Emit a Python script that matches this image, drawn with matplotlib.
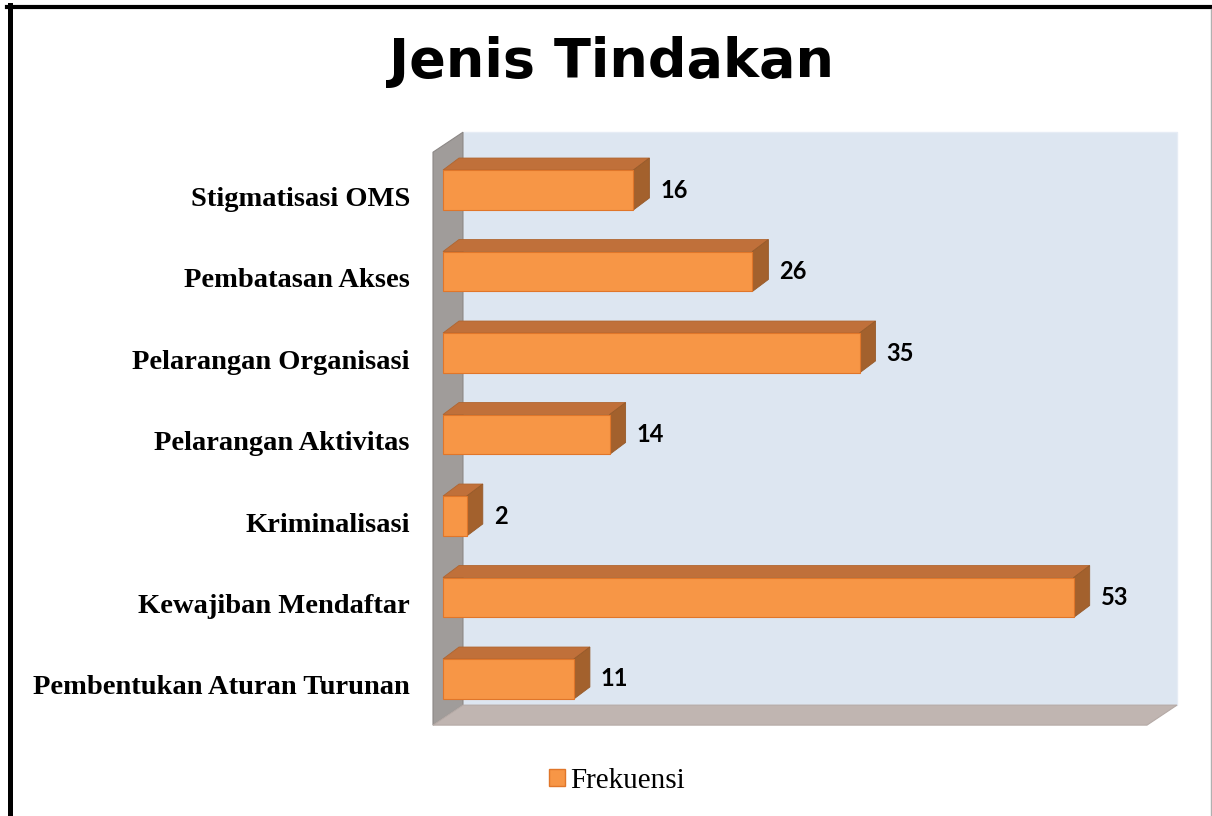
import matplotlib.pyplot as plt
import matplotlib.lines as mlines
from matplotlib.patches import Polygon, Patch
from matplotlib.transforms import ScaledTranslation

categories = ["Stigmatisasi OMS", "Pembatasan Akses", "Pelarangan Organisasi",
              "Pelarangan Aktivitas", "Kriminalisasi", "Kewajiban Mendaftar",
              "Pembentukan Aturan Turunan"]
frekuensi = [16, 26, 35, 14, 2, 53, 11]
x_max = 60

W, H, DPI = 1212, 816, 100
fig = plt.figure(figsize=(W / DPI, H / DPI), dpi=DPI)

# axes = front plane of the bars (pixel layout)
ax_l, ax_r, ax_t, ax_b = 443, 1157, 149.25, 719.75
ax = fig.add_axes([ax_l / W, 1 - ax_b / H, (ax_r - ax_l) / W, (ax_b - ax_t) / H])
ax.set_xlim(0, x_max)
ax.set_ylim(len(categories) - 0.5, -0.5)
ax.set_facecolor("none")
for s in ax.spines.values():
    s.set_visible(False)

PX = (ax_r - ax_l) / x_max   # pixels per value unit
PY = (ax_b - ax_t) / len(categories)  # pixels per category


def off(dx, dy):
    # pixel offset (right, up) -> data offset
    return dx / PX, -dy / PY


fx, fy = off(-10, -7)   # front of walls
bx, by = off(20, 13)    # back of walls
ddx, ddy = off(16, 12)  # bar depth
y0, y1 = -0.55, 6.48

# back wall, side wall, floor
ax.add_patch(Polygon([(bx, y0 + by), (x_max + bx, y0 + by), (x_max + bx, y1 + by), (bx, y1 + by)],
                     closed=True, facecolor="#dde6f1", edgecolor="#e6ecf5", lw=1, clip_on=False, zorder=1))
ax.add_patch(Polygon([(fx, y0 + fy), (bx, y0 + by), (bx, y1 + by), (fx, y1 + fy)],
                     closed=True, facecolor="#a09c9a", edgecolor="#8c8886", lw=0.8, clip_on=False, zorder=2))
ax.add_patch(Polygon([(fx, y1 + fy), (x_max + fx, y1 + fy), (x_max + bx, y1 + by), (bx, y1 + by)],
                     closed=True, facecolor="#c0b5b1", edgecolor="#b5aaa6", lw=0.8, clip_on=False, zorder=2))

h = 0.245
for i, v in enumerate(frekuensi):
    top = [(0, i - h), (v, i - h), (v + ddx, i - h + ddy), (ddx, i - h + ddy)]
    side = [(v, i - h), (v, i + h), (v + ddx, i + h + ddy), (v + ddx, i - h + ddy)]
    ax.add_patch(Polygon(top, closed=True, facecolor="#c0703a", edgecolor="#b0652f",
                         lw=0.6, clip_on=False, zorder=3))
    ax.add_patch(Polygon(side, closed=True, facecolor="#a3612d", edgecolor="#965a2a",
                         lw=0.6, clip_on=False, zorder=3))
    ax.barh(i, v, height=2 * h, color="#f79646", edgecolor="#e0762a", lw=0.8,
            zorder=4, clip_on=False)
    ax.text(v + 27 / PX, i, str(v), ha="left", va="center", fontsize=17,
            fontfamily="Lato", fontweight="bold", color="black", zorder=5)

ax.set_xticks([])
ax.set_yticks(range(len(categories)), labels=categories)
ax.tick_params(axis="y", length=0, pad=23.8)
for lab in ax.get_yticklabels():
    lab.set_fontfamily("Liberation Serif")
    lab.set_fontweight("bold")
    lab.set_fontsize(20.5)
    lab.set_transform(lab.get_transform() + ScaledTranslation(0, -6 / DPI, fig.dpi_scale_trans))

fig.text(611 / W, 1 - 62 / H, "Jenis Tindakan", ha="center", va="center",
         fontsize=39, fontweight="bold", fontfamily="DejaVu Sans")

ax.legend(handles=[Patch(facecolor="#f79646", edgecolor="#e0762a", label="Frekuensi")],
          loc="center", bbox_to_anchor=(617 / W, 1 - 781 / H), bbox_transform=fig.transFigure,
          frameon=False, prop={"family": "Liberation Serif", "size": 21},
          handlelength=0.55, handleheight=0.55, handletextpad=0.2)

# outer frame
fig.add_artist(mlines.Line2D([9.5 / W, 9.5 / W], [0, 1 - 5 / H], color="black", lw=3.6,
                             transform=fig.transFigure))
fig.add_artist(mlines.Line2D([7 / W, 1], [1 - 7 / H, 1 - 7 / H], color="black", lw=3.0,
                             transform=fig.transFigure))
fig.add_artist(mlines.Line2D([1210.5 / W, 1210.5 / W], [0, 1 - 9 / H], color="#b0b0b0", lw=1.0,
                             transform=fig.transFigure))

fig.savefig("out.png", dpi=DPI)
